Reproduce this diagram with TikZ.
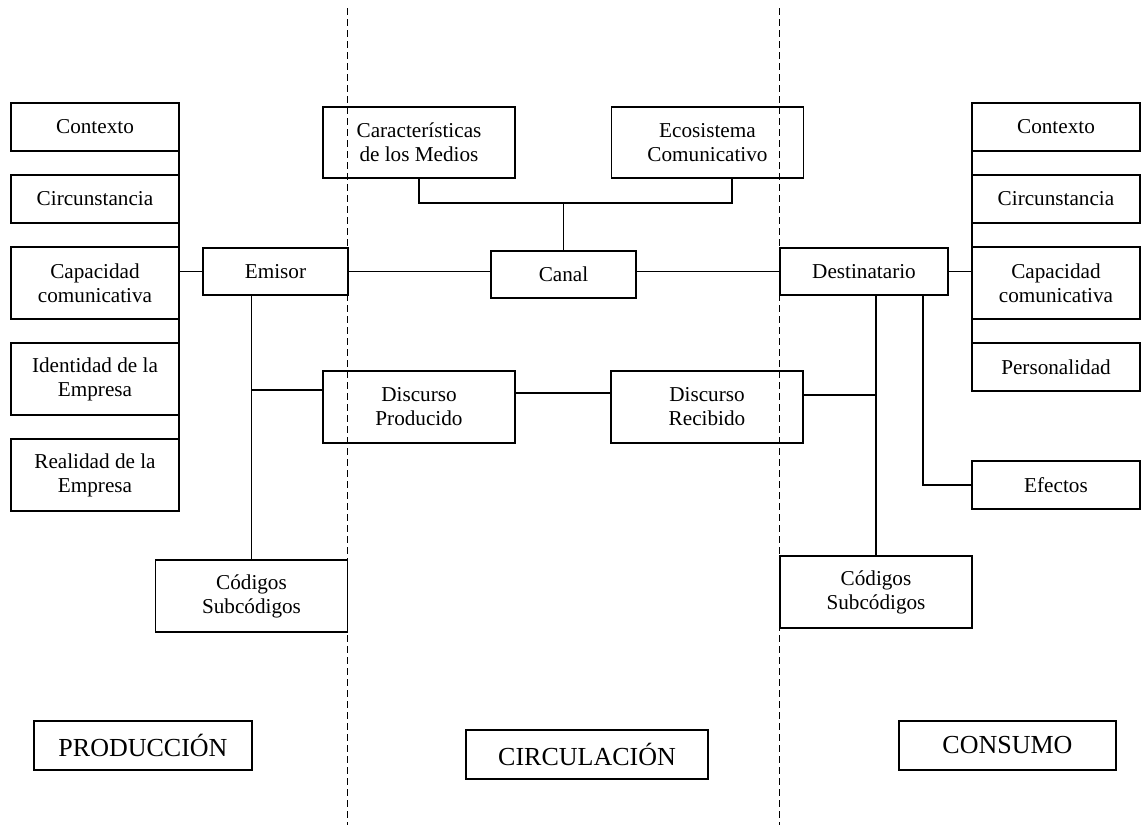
\documentclass[tikz,border=0pt]{standalone}
\usepackage{fontspec}
\setmainfont{Liberation Serif}
\usetikzlibrary{positioning, calc}
\tikzset{
    base/.style = {rectangle, draw=black, line width=0.7pt, align=center, inner sep=0pt, outer sep=0pt, font=\fontsize{10.6}{12}\selectfont},
    side/.style = {base, minimum width=84pt, minimum height=24pt},
    sidetwo/.style = {side, minimum height=36pt},
    actor/.style = {base, minimum width=72.5pt, minimum height=23.5pt},
    disc/.style = {base, minimum width=96pt, minimum height=36pt},
    phase/.style = {base, minimum height=24.5pt, font=\fontsize{13}{15}\selectfont},
    link/.style = {line width=0.7pt},
    border/.style = {line width=0.5pt, dash pattern=on 3.5pt off 2pt}
}

\begin{document}
\begin{tikzpicture}[x=0.5pt, y=-0.5pt]
        \useasboundingbox (0,0) rectangle (1148,825);

        % Phase borders
        \coordinate (topA) at (347,8);
        \coordinate (botA) at (347,825);
        \coordinate (topB) at (779,8);
        \coordinate (botB) at (779,825);
        \draw [border] (topA) -- (botA);
        \draw [border] (topB) -- (botB);

        % Production
        \node (ctxA) [side] at (95,127) {Contexto};
        \node (cirA) [side, below=12pt of ctxA] {Circunstancia};
        \node (capA) [sidetwo, below=12pt of cirA] {Capacidad\\comunicativa};
        \node (ideA) [sidetwo, below=12pt of capA] {Identidad de la\\Empresa};
        \node (reaA) [sidetwo, below=12pt of ideA] {Realidad de la\\Empresa};
        \node (emisor) [actor] at (275.5,271.5) {Emisor};
        \node (codA) [disc] at (251.5,596) {Códigos\\Subcódigos};

        % Circulation
        \node (carac) [disc, minimum height=35.5pt] at (419,142.5) {Características\\de los Medios};
        \node (ecosis) [disc, minimum height=35.5pt] at (707.5,142.5) {Ecosistema\\Comunicativo};
        \node (canal) [actor] at (563.5,274.5) {Canal};
        \node (dprod) [disc] at (419,407) {Discurso\\Producido};
        \node (drec) [disc] at (707,407) {Discurso\\Recibido};

        % Consumption
        \node (dest) [actor, minimum width=84pt] at (864,271.5) {Destinatario};
        \node (ctxB) [side] at (1056,127) {Contexto};
        \node (cirB) [side, below=12pt of ctxB] {Circunstancia};
        \node (capB) [sidetwo, below=12pt of cirB] {Capacidad\\comunicativa};
        \node (perB) [side, below=12pt of capB] {Personalidad};
        \node (efec) [side] at (1056,485) {Efectos};
        \node (codB) [disc] at (876,592) {Códigos\\Subcódigos};

        % Phase labels
        \node (prod) [phase, minimum width=109pt] at (143,745.5) {PRODUCCIÓN};
        \node (circ) [phase, minimum width=121pt] at (587,754.5) {CIRCULACIÓN};
        \node (cons) [phase, minimum width=108.5pt] at (1007.5,745.5) {CONSUMO};

        % Emisor links
        \draw [link] (ctxA.east) -- (reaA.east);
        \draw [link] (emisor.west) -- (emisor.west -| capA.east);
        \draw [link] (emisor.east) -- (emisor.east -| canal.west);
        \draw [link] (codA.north) -- (codA.north |- emisor.south);
        \coordinate (empJ) at (251.5,390);
        \draw [link] (empJ) -- (empJ -| dprod.west);

        % Canal links
        \coordinate (medJ) at (563.5,203);
        \draw [link] (carac.south) |- (medJ);
        \draw [link] ($(ecosis.south)+(24.5,0)$) |- (medJ);
        \draw [link] (medJ) -- (canal.north);
        \draw [link] (dest.west) -- (dest.west -| canal.east);
        \draw [link] ($(dprod.east)+(0,-14)$) -- ($(drec.west)+(0,-14)$);

        % Destinatario links
        \draw [link] (dest.east) -- (dest.east -| capB.west);
        \draw [link] (ctxB.west) -- (perB.west);
        \draw [link] (codB.north) -- (codB.north |- dest.south);
        \coordinate (recJ) at (876,395);
        \draw [link] (drec.east |- recJ) -- (recJ);
        \coordinate (efJ) at (923,485);
        \draw [link] (efJ |- dest.south) -- (efJ) -- (efec.west);

    \end{tikzpicture}
\end{document}
